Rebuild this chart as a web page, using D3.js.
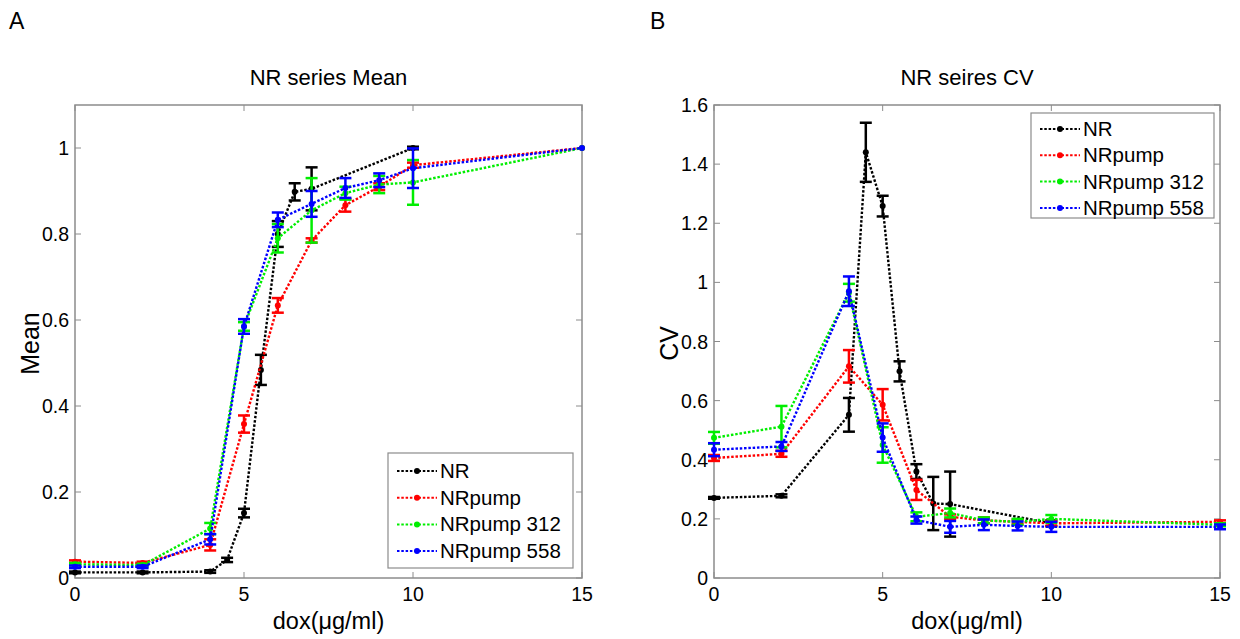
<!DOCTYPE html>
<html>
<head>
<meta charset="utf-8">
<script src="https://cdn.jsdelivr.net/npm/d3@7"></script>
<style>
  body { margin: 0; background: #fff; }
  svg text { font-family: Arial, "Liberation Sans", sans-serif; fill: #000; }
</style>
</head>
<body>
<svg id="chart" width="1240" height="639"></svg>
<script>
const seriesNames = ['NR', 'NRpump', 'NRpump 312', 'NRpump 558'];
const seriesColors = ['#000000', '#ff0000', '#00ee00', '#0000ff'];

// dox doses
const doseNR = [0, 2, 4, 4.5, 5, 5.5, 6, 6.5, 7, 10];
const dosePump = [0, 2, 4, 5, 6, 7, 8, 9, 10, 15];

// panel A: mean
const meanNR = [0.013, 0.013, 0.015, 0.042, 0.151, 0.484, 0.80, 0.898, 0.905, 1.0];
const meanNRErr = [0.002, 0.002, 0.003, 0.005, 0.01, 0.035, 0.03, 0.02, 0.05, 0.003];
const meanPump = [0.038, 0.035, 0.077, 0.358, 0.634, 0.785, 0.867, 0.91, 0.96, 1.0];
const meanPumpErr = [0.003, 0.003, 0.013, 0.02, 0.017, 0.005, 0.015, 0.008, 0.006, 0];
const mean312 = [0.032, 0.03, 0.115, 0.585, 0.79, 0.855, 0.895, 0.915, 0.92, 1.0];
const mean312Err = [0.003, 0.003, 0.013, 0.01, 0.033, 0.075, 0.015, 0.02, 0.052, 0];
const mean558 = [0.026, 0.026, 0.09, 0.585, 0.833, 0.87, 0.907, 0.925, 0.953, 1.0];
const mean558Err = [0.003, 0.003, 0.012, 0.017, 0.017, 0.03, 0.023, 0.016, 0.046, 0];

// panel B: CV
const cvNR = [0.271, 0.278, 0.552, 1.44, 1.258, 0.699, 0.36, 0.252, 0.25, 0.185];
const cvNRErr = [0.003, 0.005, 0.057, 0.1, 0.035, 0.034, 0.025, 0.09, 0.11, 0.01];
const cvPump = [0.406, 0.42, 0.716, 0.586, 0.298, 0.207, 0.195, 0.19, 0.185, 0.19];
const cvPumpErr = [0.01, 0.01, 0.055, 0.053, 0.034, 0.008, 0.01, 0.008, 0.008, 0.005];
const cv312 = [0.474, 0.512, 0.965, 0.45, 0.207, 0.22, 0.195, 0.19, 0.2, 0.18];
const cv312Err = [0.02, 0.07, 0.03, 0.06, 0.015, 0.015, 0.01, 0.01, 0.013, 0.005];
const cv558 = [0.434, 0.445, 0.97, 0.475, 0.196, 0.173, 0.18, 0.176, 0.173, 0.173];
const cv558Err = [0.022, 0.015, 0.05, 0.048, 0.012, 0.02, 0.018, 0.015, 0.017, 0.008];

const xTicks = [0, 5, 10, 15];
const meanTicks = [0, 0.2, 0.4, 0.6, 0.8, 1];
const cvTicks = [0, 0.2, 0.4, 0.6, 0.8, 1, 1.2, 1.4, 1.6];

const svg = d3.select('#chart');

function zip(xs, ys, es) {
  return xs.map((x, i) => ({ x, y: ys[i], e: es[i] }));
}

function drawPanel(opts) {
  const { left, right, top, bottom, yMax, yTicks, title, yLabel, letter, letterX, series, legend } = opts;
  const x = d3.scaleLinear().domain([0, 15]).range([left, right]);
  const y = d3.scaleLinear().domain([0, yMax]).range([bottom, top]);
  const g = svg.append('g');

  g.append('text').attr('x', letterX).attr('y', 29).attr('font-size', 23).text(letter);
  g.append('text').attr('x', (left + right) / 2).attr('y', 85)
    .attr('text-anchor', 'middle').attr('font-size', 22).text(title);

  // box + ticks
  const axisCol = '#8c8c8c';
  g.append('rect').attr('x', left).attr('y', top).attr('width', right - left)
    .attr('height', bottom - top).attr('fill', 'none').attr('stroke', axisCol).attr('stroke-width', 1.5);

  xTicks.forEach(t => {
    g.append('line').attr('x1', x(t)).attr('x2', x(t)).attr('y1', bottom).attr('y2', bottom - 6).attr('stroke', axisCol);
    g.append('line').attr('x1', x(t)).attr('x2', x(t)).attr('y1', top).attr('y2', top + 6).attr('stroke', axisCol);
    g.append('text').attr('x', x(t)).attr('y', bottom + 23).attr('text-anchor', 'middle')
      .attr('font-size', 19.5).text(t);
  });
  yTicks.forEach(t => {
    g.append('line').attr('x1', left).attr('x2', left + 6).attr('y1', y(t)).attr('y2', y(t)).attr('stroke', axisCol);
    g.append('line').attr('x1', right).attr('x2', right - 6).attr('y1', y(t)).attr('y2', y(t)).attr('stroke', axisCol);
    g.append('text').attr('x', left - 6).attr('y', y(t) + 7).attr('text-anchor', 'end')
      .attr('font-size', 19.5).text(d3.format('~g')(t));
  });

  const xl = g.append('text').attr('x', (left + right) / 2).attr('y', bottom + 51)
    .attr('text-anchor', 'middle').attr('font-size', 23.5);
  xl.append('tspan').text('dox(');
  xl.append('tspan').text('μ');
  xl.append('tspan').text('g/ml)');

  g.append('text').attr('transform', `translate(${left - 36},${(top + bottom) / 2 + 2}) rotate(-90)`)
    .attr('text-anchor', 'middle').attr('font-size', 25).text(yLabel);

  const line = d3.line().x(d => x(d.x)).y(d => y(d.y));

  series.forEach((s, i) => {
    const col = seriesColors[i];
    const sg = g.append('g');
    sg.append('path').datum(s).attr('d', line).attr('fill', 'none')
      .attr('stroke', col).attr('stroke-width', 2.4).attr('stroke-dasharray', '2.5,1.8');
    s.forEach(d => {
      if (d.e > 0) {
        const y1 = y(d.y + d.e), y2 = y(d.y - d.e), cx = x(d.x);
        sg.append('line').attr('x1', cx).attr('x2', cx).attr('y1', y1).attr('y2', y2)
          .attr('stroke', col).attr('stroke-width', 2.5);
        [y1, y2].forEach(yy => sg.append('line').attr('x1', cx - 6).attr('x2', cx + 6)
          .attr('y1', yy).attr('y2', yy).attr('stroke', col).attr('stroke-width', 2.5));
      }
    });
    sg.selectAll('circle').data(s).join('circle')
      .attr('cx', d => x(d.x)).attr('cy', d => y(d.y)).attr('r', 3).attr('fill', col);
  });

  // legend
  const lg = g.append('g');
  lg.append('rect').attr('x', legend.x).attr('y', legend.y).attr('width', legend.w).attr('height', legend.h)
    .attr('fill', '#fff').attr('stroke', axisCol).attr('stroke-width', 1.2);
  seriesNames.forEach((name, i) => {
    const yy = legend.y + legend.first + i * legend.step;
    const col = seriesColors[i];
    lg.append('line').attr('x1', legend.x + 9).attr('x2', legend.x + 49).attr('y1', yy).attr('y2', yy)
      .attr('stroke', col).attr('stroke-width', 2).attr('stroke-dasharray', '2.5,1.8');
    lg.append('circle').attr('cx', legend.x + 29).attr('cy', yy).attr('r', 3).attr('fill', col);
    lg.append('text').attr('x', legend.x + 52).attr('y', yy + 7).attr('font-size', 20.5).text(name);
  });
}

drawPanel({
  left: 75, right: 582, top: 105, bottom: 578, yMax: 1.1, yTicks: meanTicks,
  title: 'NR series Mean', yLabel: 'Mean', letter: 'A', letterX: 9,
  series: [zip(doseNR, meanNR, meanNRErr), zip(dosePump, meanPump, meanPumpErr),
           zip(dosePump, mean312, mean312Err), zip(dosePump, mean558, mean558Err)],
  legend: { x: 388, y: 453, w: 185, h: 115, first: 18, step: 26.7 }
});

drawPanel({
  left: 714, right: 1220, top: 105, bottom: 578, yMax: 1.6, yTicks: cvTicks,
  title: 'NR seires CV', yLabel: 'CV', letter: 'B', letterX: 650,
  series: [zip(doseNR, cvNR, cvNRErr), zip(dosePump, cvPump, cvPumpErr),
           zip(dosePump, cv312, cv312Err), zip(dosePump, cv558, cv558Err)],
  legend: { x: 1031, y: 113, w: 183, h: 105, first: 16, step: 26.3 }
});
</script>
</body>
</html>
